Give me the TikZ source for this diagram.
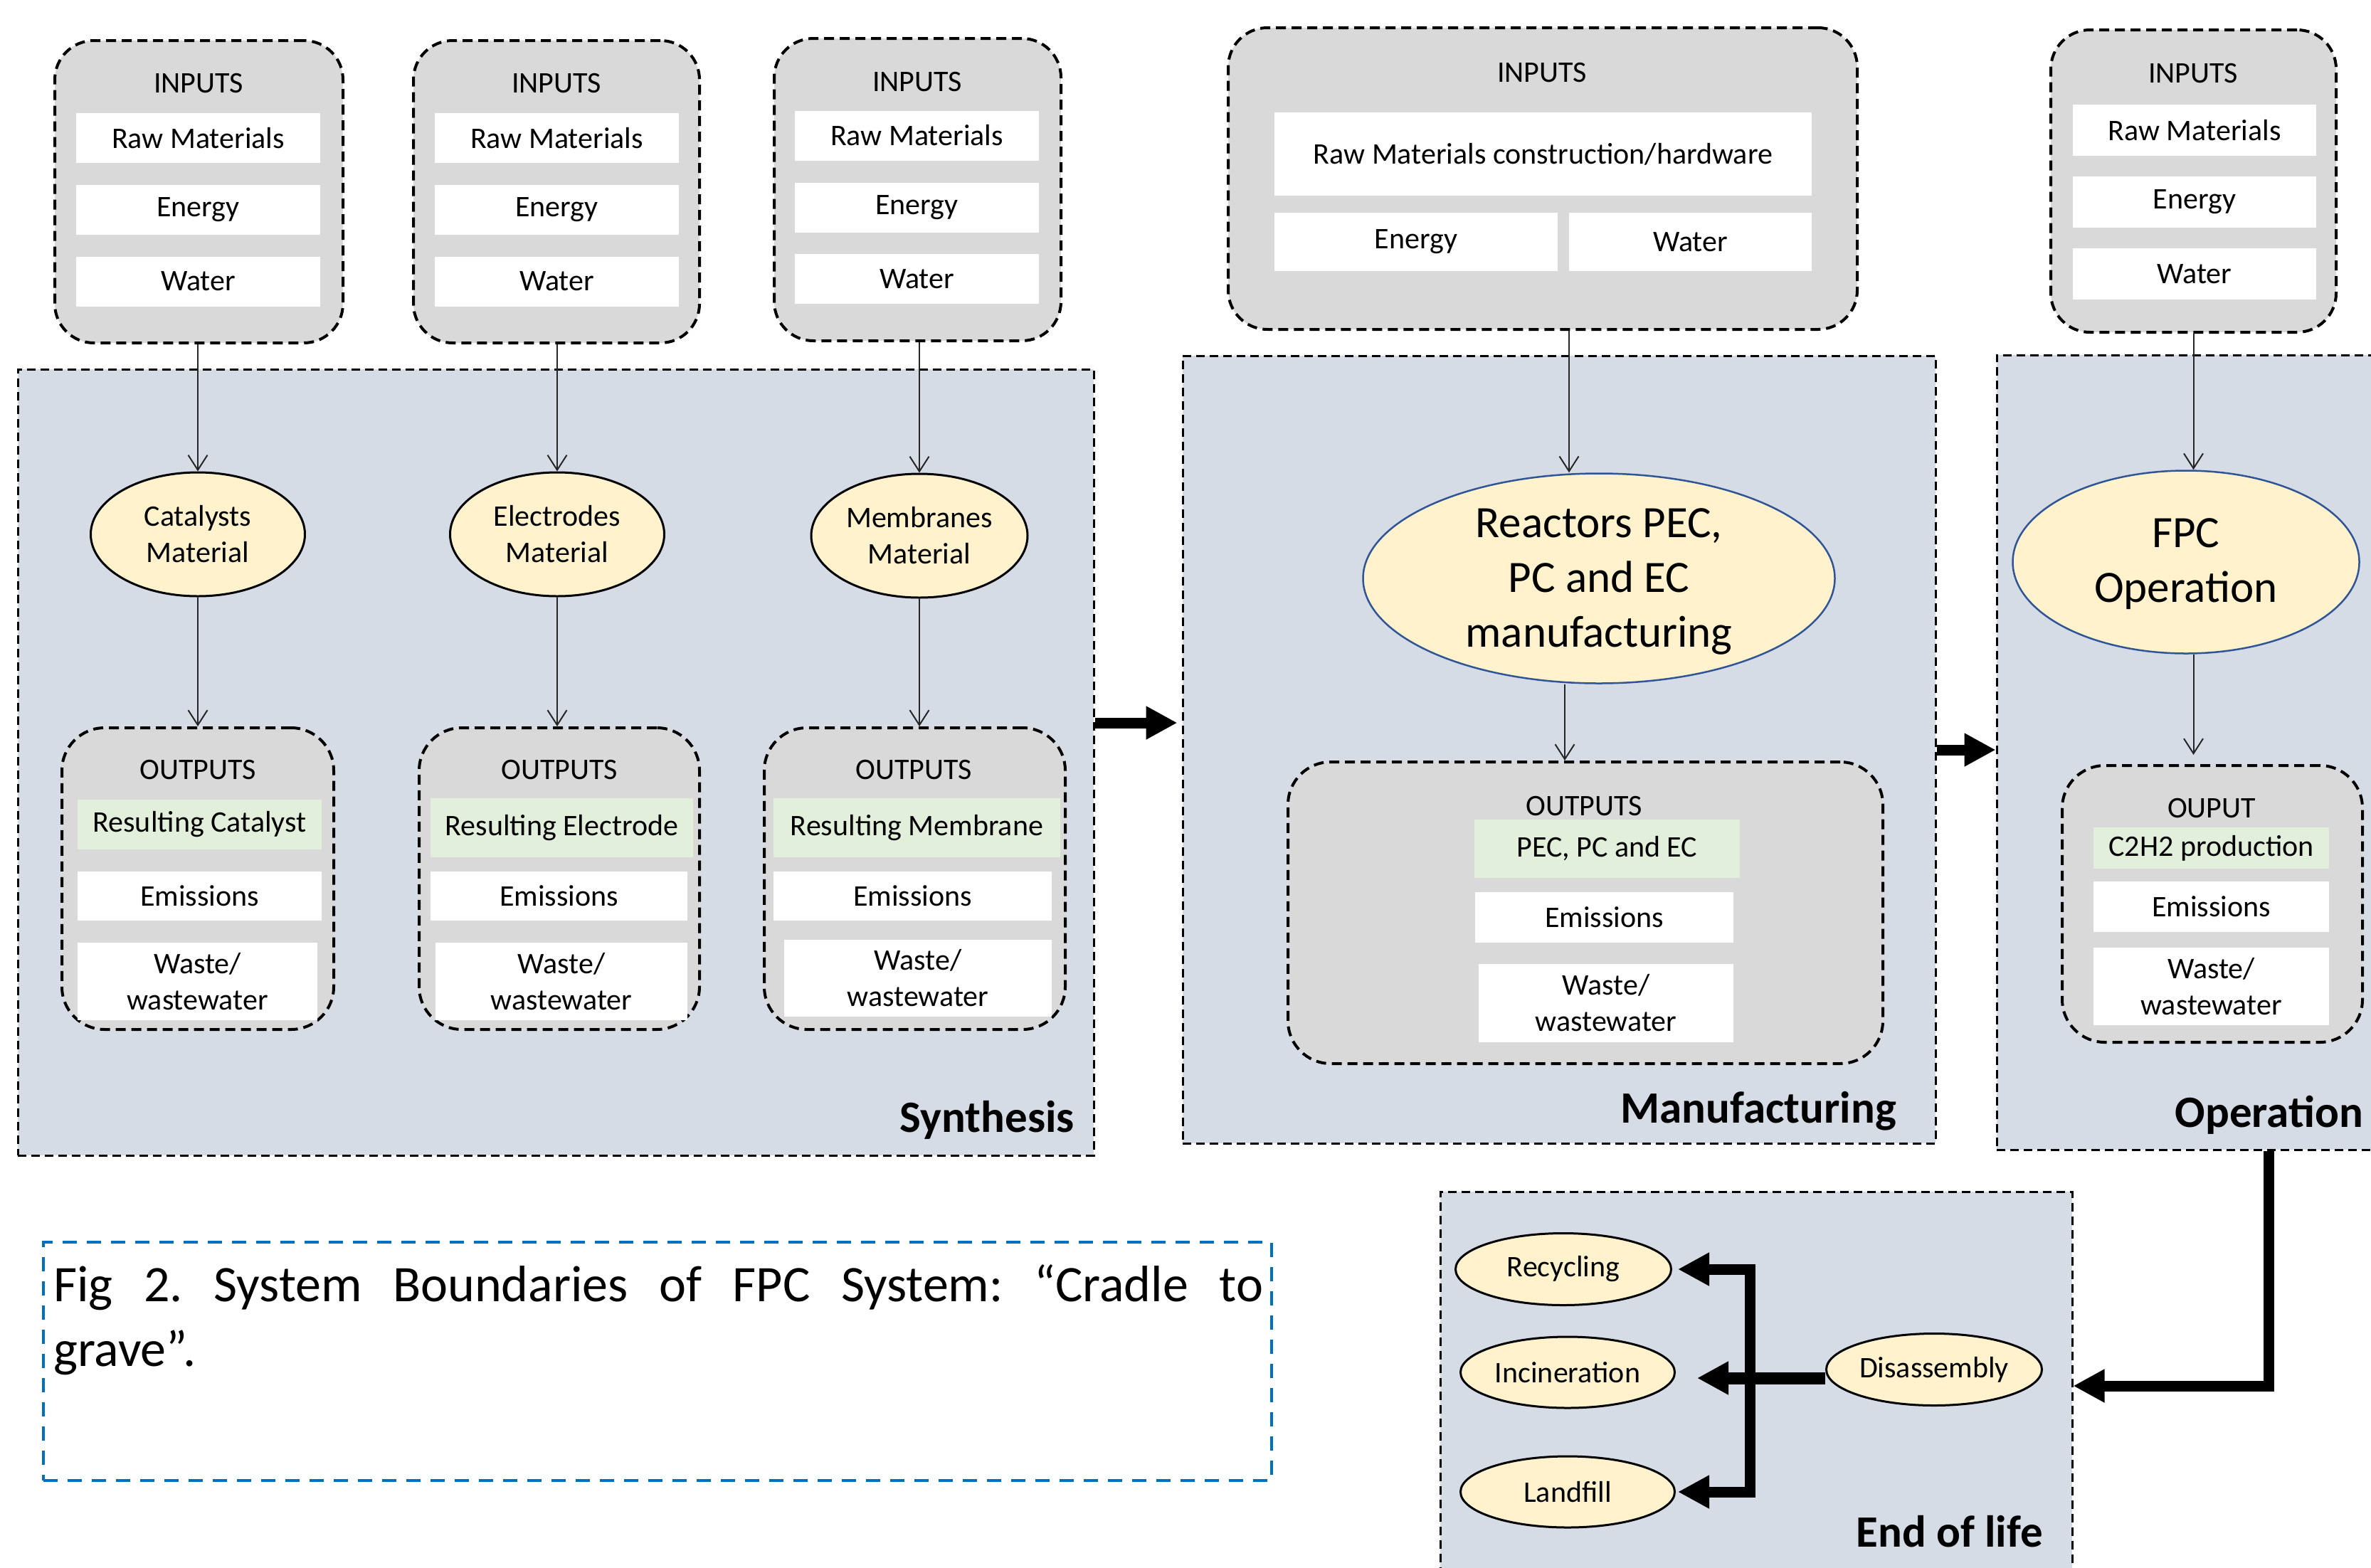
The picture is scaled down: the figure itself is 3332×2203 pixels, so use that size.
\documentclass[tikz,border=0pt]{standalone}
\usepackage{fontspec}
\setmainfont{Carlito}
\usetikzlibrary{arrows.meta,shapes.geometric}
\definecolor{boxgray}{HTML}{D9D9D9}
\definecolor{stagefill}{HTML}{D6DCE5}
\definecolor{ellfill}{HTML}{FFF2CC}
\definecolor{greenbar}{HTML}{E2EFDA}
\definecolor{ellblue}{HTML}{2F5597}
\definecolor{capblue}{HTML}{0070C0}
\newcommand\fs{\fontsize{42pt}{51pt}\selectfont}
\newcommand\fbig{\fontsize{63pt}{77pt}\selectfont}
\newcommand\fstage{\fontsize{63pt}{75pt}\selectfont\bfseries}
\newcommand\fcap{\fontsize{72pt}{91pt}\selectfont\frenchspacing}
\begin{document}
\begin{tikzpicture}[x=1pt,y=-1pt,
  stagebox/.style={draw=black, fill=stagefill, line width=3pt, dash pattern=on 12pt off 7pt, inner sep=0},
  iobox/.style={draw=black, fill=boxgray, line width=4pt, dash pattern=on 14pt off 8pt, rounded corners=55pt, inner sep=0},
  wbar/.style={fill=white, inner sep=0, font=\fs, align=center},
  gbar/.style={fill=greenbar, inner sep=0, font=\fs, align=center},
  ttl/.style={font=\fs, inner sep=0},
  ellb/.style={ellipse, draw=black, fill=ellfill, line width=3pt, inner sep=0},
  ellu/.style={ellipse, draw=ellblue, fill=ellfill, line width=2.5pt, inner sep=0},
  elltxt/.style={font=\fs, align=center, inner sep=0},
  bigtxt/.style={font=\fbig, align=center, inner sep=0},
  thinarrow/.style={draw=black!85, line width=2pt, -{Straight Barb[length=21pt,width=27pt,line width=2pt]}},
  bigarrow/.style={draw=black, line width=15pt, line join=miter, -{Triangle[length=44pt,width=44pt]}},
  stagelbl/.style={font=\fstage, inner sep=0, anchor=base east},
  captxt/.style={font=\fcap, inner sep=0, anchor=base west},
]
\useasboundingbox (0,0) rectangle (3332,2203);
\clip (0,0) rectangle (3332,2203);

% ---------- stage boxes ----------
\node[stagebox, minimum width=1512pt, minimum height=1105pt] (syn) at (781,1071.5) {};
\node[stagebox, minimum width=1058pt, minimum height=1107pt] (man) at (2191,1053.5) {};
\node[stagebox, minimum width=554pt, minimum height=1117pt] (op) at (3083,1057.5) {};
\node[stagebox, minimum width=888pt, minimum height=565pt] (eol) at (2468,1957.5) {};

\node[stagelbl] (synL) at (1510,1591) {Synthesis};
\node[stagelbl] (manL) at (2665,1578) {Manufacturing};
\node[stagelbl] (opL) at (3321,1584) {Operation};
\node[stagelbl] (eolL) at (2871,2174) {End of life};

% ---------- input boxes ----------
\node[iobox, minimum width=405pt, minimum height=425pt] (in1) at (279.5,269.5) {};
\node[ttl] (in1t) at (279,117) {INPUTS};
\node[wbar, minimum width=343pt, minimum height=70pt] (in1a) at (278.5,194) {Raw Materials};
\node[wbar, minimum width=343pt, minimum height=70pt] (in1b) at (278.5,294.5) {Energy};
\node[wbar, minimum width=343pt, minimum height=70pt] (in1c) at (278.5,395.5) {Water};

\node[iobox, minimum width=402pt, minimum height=425pt] (in2) at (782,269.5) {};
\node[ttl] (in2t) at (782,117) {INPUTS};
\node[wbar, minimum width=343pt, minimum height=70pt] (in2a) at (782.5,194) {Raw Materials};
\node[wbar, minimum width=343pt, minimum height=70pt] (in2b) at (782.5,294.5) {Energy};
\node[wbar, minimum width=343pt, minimum height=70pt] (in2c) at (782.5,395.5) {Water};

\node[iobox, minimum width=403pt, minimum height=425pt] (in3) at (1289.5,266.5) {};
\node[ttl] (in3t) at (1289,115) {INPUTS};
\node[wbar, minimum width=343pt, minimum height=70pt] (in3a) at (1288.5,190.5) {Raw Materials};
\node[wbar, minimum width=343pt, minimum height=70pt] (in3b) at (1288.5,291.5) {Energy};
\node[wbar, minimum width=343pt, minimum height=70pt] (in3c) at (1288.5,392) {Water};

\node[iobox, minimum width=884pt, minimum height=424pt] (in4) at (2168,251) {};
\node[ttl] (in4t) at (2167,102) {INPUTS};
\node[wbar, minimum width=755pt, minimum height=117pt] (in4a) at (2168.5,216.5) {Raw Materials construction/hardware};
\node[wbar, minimum width=398pt, minimum height=82pt] (in4b) at (1990,340) {Energy};
\node[wbar, minimum width=341pt, minimum height=82pt] (in4c) at (2375.5,340) {Water};

\node[iobox, minimum width=401pt, minimum height=425pt] (in5) at (3082.5,254.5) {};
\node[ttl] (in5t) at (3082,103) {INPUTS};
\node[wbar, minimum width=342pt, minimum height=72pt] (in5a) at (3084,183) {Raw Materials};
\node[wbar, minimum width=342pt, minimum height=72pt] (in5b) at (3084,284) {Energy};
\node[wbar, minimum width=342pt, minimum height=72pt] (in5c) at (3084,385) {Water};

% ---------- output boxes ----------
\node[iobox, rounded corners=60pt, minimum width=382pt, minimum height=424pt] (out1) at (278,1235) {};
\node[ttl] (out1t) at (278,1082) {OUTPUTS};
\node[gbar, minimum width=343pt, minimum height=70pt] (out1a) at (280.5,1159) {Resulting Catalyst};
\node[wbar, minimum width=343pt, minimum height=69pt] (out1b) at (280.5,1259.5) {Emissions};
\node[wbar, minimum width=337pt, minimum height=109pt] (out1c) at (277.5,1379.5) {Waste/\\wastewater};

\node[iobox, rounded corners=60pt, minimum width=394pt, minimum height=424pt] (out2) at (786,1235) {};
\node[ttl] (out2t) at (786,1082) {OUTPUTS};
\node[gbar, minimum width=369pt, minimum height=83pt] (out2a) at (789.5,1163.5) {Resulting Electrode};
\node[wbar, minimum width=361pt, minimum height=69pt] (out2b) at (785.5,1259.5) {Emissions};
\node[wbar, minimum width=354pt, minimum height=109pt] (out2c) at (789,1379.5) {Waste/\\wastewater};

\node[iobox, rounded corners=60pt, minimum width=423pt, minimum height=424pt] (out3) at (1285.5,1235) {};
\node[ttl] (out3t) at (1284,1082) {OUTPUTS};
\node[gbar, minimum width=403pt, minimum height=83pt] (out3a) at (1288.5,1163.5) {Resulting Membrane};
\node[wbar, minimum width=391pt, minimum height=69pt] (out3b) at (1282.5,1259.5) {Emissions};
\node[wbar, minimum width=376pt, minimum height=108pt] (out3c) at (1290,1375) {Waste/\\wastewater};

\node[iobox, rounded corners=60pt, minimum width=836pt, minimum height=424pt] (out4) at (2228,1283) {};
\node[ttl] (out4t) at (2226,1133) {OUTPUTS};
\node[gbar, minimum width=373pt, minimum height=82pt] (out4a) at (2258.5,1193) {PEC, PC and EC};
\node[wbar, minimum width=363pt, minimum height=71pt] (out4b) at (2254.5,1289.5) {Emissions};
\node[wbar, minimum width=358pt, minimum height=110pt] (out4c) at (2257,1410) {Waste/\\wastewater};

\node[iobox, rounded corners=60pt, minimum width=422pt, minimum height=389pt] (out5) at (3109,1270.5) {};
\node[ttl] (out5t) at (3108,1136) {OUPUT};
\node[gbar, minimum width=331pt, minimum height=58pt] (out5a) at (3107.5,1192) {C2H2 production};
\node[wbar, minimum width=331pt, minimum height=71pt] (out5b) at (3107.5,1274.5) {Emissions};
\node[wbar, minimum width=331pt, minimum height=109pt] (out5c) at (3107.5,1386.5) {Waste/\\wastewater};

% ---------- ellipses ----------
\node[ellb, minimum width=301pt, minimum height=174pt] (cat) at (278,751) {};
\node[elltxt] (catT) at (cat.center) {Catalysts\\Material};
\node[ellb, minimum width=301pt, minimum height=174pt] (ele) at (783,751) {};
\node[elltxt] (eleT) at (ele.center) {Electrodes\\Material};
\node[ellb, minimum width=304pt, minimum height=174pt] (mem) at (1292,753) {};
\node[elltxt] (memT) at (mem.center) {Membranes\\Material};

\node[ellu, minimum width=663pt, minimum height=295pt] (rea) at (2247,813) {};
\node[bigtxt] (reaT) at (2247,817) {Reactors PEC,\\PC and EC\\manufacturing};
\node[ellu, minimum width=487pt, minimum height=257pt] (fpc) at (3072,790) {};
\node[bigtxt] (fpcT) at (3072,793) {FPC\\Operation};

\node[ellb, minimum width=303pt, minimum height=101pt] (rec) at (2197,1784) {};
\node[elltxt] (recT) at (rec.center) {Recycling};
\node[ellb, minimum width=301pt, minimum height=100pt] (inc) at (2203,1929) {};
\node[elltxt] (incT) at (inc.center) {Incineration};
\node[ellb, minimum width=301pt, minimum height=100pt] (lan) at (2203,2097) {};
\node[elltxt] (lanT) at (lan.center) {Landfill};
\node[ellb, minimum width=303pt, minimum height=101pt] (dis) at (2718,1925) {};
\node[elltxt] (disT) at (dis.center) {Disassembly};

% ---------- thin arrows ----------
\draw[thinarrow] (in1.south -| cat.north) -- (cat.north);
\draw[thinarrow] (in2.south -| ele.north) -- (ele.north);
\draw[thinarrow] (in3.south -| mem.north) -- (mem.north);
\draw[thinarrow] (cat.south) -- (out1.north -| cat.south);
\draw[thinarrow] (ele.south) -- (out2.north -| ele.south);
\draw[thinarrow] (mem.south) -- (out3.north -| mem.south);
\coordinate (mx1) at (2205,0);
\coordinate (mx2) at (2199,0);
\draw[thinarrow] (in4.south -| mx1) -- (rea.north -| mx1);
\draw[thinarrow] (rea.south -| mx2) -- (out4.north -| mx2);
\draw[thinarrow] (in5.south) -- (fpc.north -| in5.south);
\draw[thinarrow, shorten >=13pt] (fpc.south -| in5.south) -- (out5.north -| in5.south);

% ---------- thick arrows ----------
\coordinate (a1) at (0,1016);
\coordinate (a2) at (0,1054);
\coordinate (a3) at (3188,0);
\coordinate (a4) at (0,1948);
\coordinate (hy) at (0,1937);
\coordinate (vm) at (2459,1937);
\draw[bigarrow, shorten >=6pt] (syn.east |- a1) -- (man.west |- a1);
\draw[bigarrow] (man.east |- a2) -- (op.west |- a2);
\draw[bigarrow] (op.south -| a3) |- (eol.east |- a4);
\draw[bigarrow, line width=17pt, shorten >=30pt] (dis.west |- hy) -- (inc.east |- hy);
\draw[bigarrow, shorten >=8pt] (vm) |- (rec.east);
\draw[bigarrow, shorten >=3pt] (vm) |- (lan.east);

% ---------- caption ----------
\node[draw=capblue, line width=4.5pt, dash pattern=on 20pt off 14pt, inner sep=0, minimum width=1726pt, minimum height=335pt] (capbox) at (924,1913.5) {};
\node[captxt] (cap1) at (75,1829) {\makebox[1700pt][s]{Fig 2. System Boundaries of FPC System: “Cradle to}};
\node[captxt] (cap2) at (75,1920) {grave”.};
\end{tikzpicture}
\end{document}
